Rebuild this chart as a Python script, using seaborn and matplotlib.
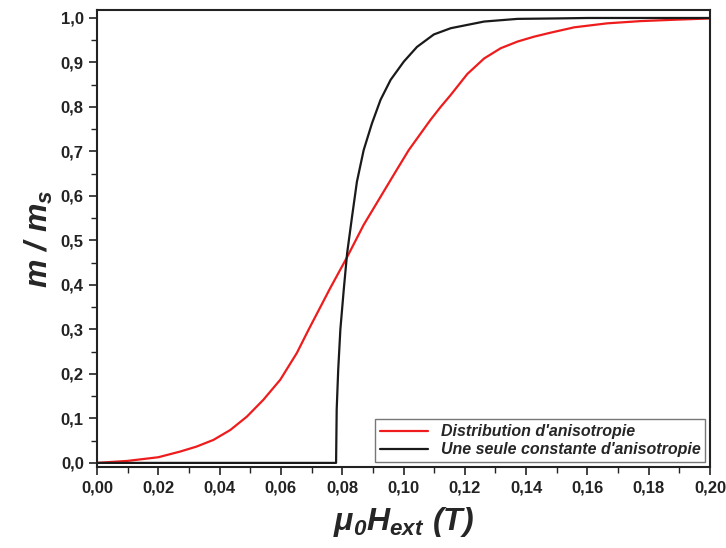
import numpy as np
import pandas as pd
import seaborn as sns
import matplotlib.pyplot as plt
from matplotlib.ticker import MultipleLocator, FuncFormatter

# values
field_distrib = [0, 0.01, 0.02, 0.0271, 0.0325, 0.038, 0.0435, 0.0489, 0.0543, 0.0598, 0.0652,
                 0.069, 0.0761, 0.0814, 0.087, 0.0979, 0.1017, 0.1088, 0.1121, 0.1154, 0.1208,
                 0.1263, 0.1317, 0.1372, 0.1426, 0.148, 0.1557, 0.1665, 0.1774, 0.1883, 0.20]
m_distrib = [0, 0.0045, 0.0127, 0.0254, 0.0367, 0.0517, 0.074, 0.104, 0.142, 0.187, 0.247,
             0.299, 0.393, 0.460, 0.535, 0.660, 0.703, 0.771, 0.800, 0.827, 0.874,
             0.909, 0.932, 0.947, 0.958, 0.967, 0.979, 0.988, 0.993, 0.996, 0.999]

field_single = [0, 0.0780, 0.0782, 0.0787, 0.0794, 0.0805, 0.0816, 0.0832, 0.0848, 0.087, 0.0897,
                0.0925, 0.0958, 0.1001, 0.1044, 0.1099, 0.1154, 0.1263, 0.1372, 0.15, 0.16, 0.20]
m_single = [0, 0, 0.12, 0.21, 0.30, 0.389, 0.471, 0.553, 0.632, 0.703, 0.763,
            0.816, 0.861, 0.902, 0.935, 0.963, 0.977, 0.992, 0.998, 0.999, 1.0, 1.0]

labels = ["Distribution d'anisotropie", "Une seule constante d'anisotropie"]

sns.set_style("ticks")
plt.rcParams['font.family'] = ['Liberation Sans', 'DejaVu Sans']
plt.rcParams['mathtext.fontset'] = 'custom'
plt.rcParams['mathtext.rm'] = 'Liberation Sans:bold:italic'
plt.rcParams['mathtext.it'] = 'Liberation Sans:bold:italic'
plt.rcParams['mathtext.bf'] = 'Liberation Sans:bold:italic'

fig = plt.figure(figsize=(7.26, 5.48), dpi=100)
ax = fig.add_axes([0.1336, 0.148, 0.978 - 0.1336, 0.9818 - 0.148])

sns.lineplot(x=field_distrib, y=m_distrib, color='#ee1c1c', lw=1.6, label=labels[0], ax=ax)
sns.lineplot(x=field_single, y=m_single, color='#1a1a1a', lw=1.6, label=labels[1], ax=ax)

ax.set_xlim(0, 0.2)
ax.set_ylim(-0.009, 1.018)
ax.xaxis.set_major_locator(MultipleLocator(0.02))
ax.xaxis.set_minor_locator(MultipleLocator(0.01))
ax.yaxis.set_major_locator(MultipleLocator(0.1))
ax.yaxis.set_minor_locator(MultipleLocator(0.05))
ax.xaxis.set_major_formatter(FuncFormatter(lambda v, p: f"{v:.2f}".replace('.', ',')))
ax.yaxis.set_major_formatter(FuncFormatter(lambda v, p: f"{v:.1f}".replace('.', ',')))

ax.tick_params(which='major', direction='out', length=6, width=1.2, labelsize=12, colors='#222222')
ax.tick_params(which='minor', direction='out', length=4, width=1.0, colors='#222222')
for lab in ax.get_xticklabels() + ax.get_yticklabels():
    lab.set_fontweight('bold')

for s in ax.spines.values():
    s.set_linewidth(1.5)
    s.set_color('#222222')

ax.set_xlabel(r'$\mu_0H_{ext}\ (T)$', fontsize=23, labelpad=7)
ax.set_ylabel(r'$m\ /\ m_s$', fontsize=23, labelpad=4)

leg = ax.legend(loc='lower right', frameon=True, fancybox=False, borderaxespad=0.3,
                handlelength=3.0, borderpad=0.3, labelspacing=0.2,
                prop={'family': 'Liberation Sans', 'weight': 'bold', 'style': 'italic', 'size': 11.5})
leg.get_frame().set_edgecolor('#555555')
leg.get_frame().set_linewidth(1.0)

fig.savefig('out.png', dpi=100)
